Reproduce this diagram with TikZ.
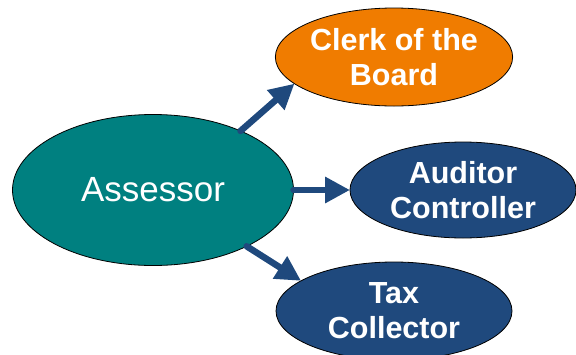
\documentclass[tikz,border=0pt]{standalone}
\usepackage{fontspec}
\setmainfont{Liberation Sans}
\usepackage{tikz}
\usetikzlibrary{arrows.meta,shapes.geometric}

\definecolor{tealfill}{RGB}{0,128,128}
\definecolor{orangefill}{RGB}{240,124,0}
\definecolor{bluefill}{RGB}{31,73,125}

\begin{document}
\begin{tikzpicture}[x=1pt,y=-1pt,
  office/.style={ellipse,draw=black,line width=0.8pt,inner sep=0pt,outer sep=0pt,
    text=white,align=center,font=\fontsize{30.5}{35}\selectfont\bfseries},
  link/.style={draw=bluefill,line width=6.5pt,line cap=round,
    -{Triangle[length=25pt,width=25pt]}}]
\clip (0,0) rectangle (576,354);
% offices
\node[office,fill=tealfill,minimum width=281pt,minimum height=151pt,
  font=\fontsize{35}{40}\selectfont] (assessor) at (153,190) {Assessor};
\node[office,fill=orangefill,minimum width=236pt,minimum height=98pt] (clerk) at (394,57) {Clerk of the\\Board};
\node[office,fill=bluefill,minimum width=226pt,minimum height=96pt] (auditor) at (463,190) {Auditor\\Controller};
\node[office,fill=bluefill,minimum width=236pt,minimum height=98pt] (tax) at (394,311) {Tax\\Collector};
% links
\draw[link] (assessor.34) -- (clerk.195);
\draw[link] (assessor.0) -- (auditor.180);
\draw[link] (assessor.-31) -- (tax.162);
\end{tikzpicture}
\end{document}
